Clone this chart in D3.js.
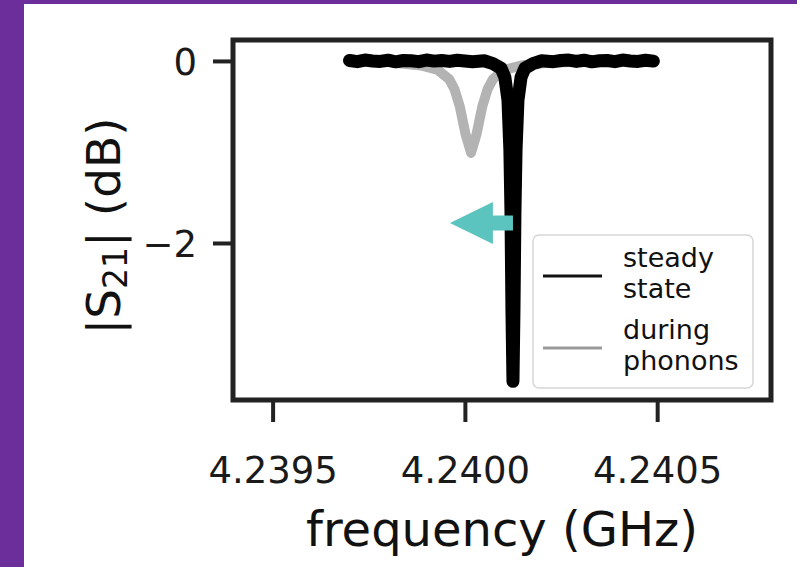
<!DOCTYPE html>
<html>
<head>
<meta charset="utf-8">
<script src="https://cdn.jsdelivr.net/npm/d3@7"></script>
<style>
  body { margin: 0; background: #6c2e9b; }
  svg { display: block; font-family: "DejaVu Sans", sans-serif; }
</style>
</head>
<body>
<div id="viz"></div>
<script>
// steady state trace, frequency in GHz and |S21| in dB
const steadyFreq = [4.23970, 4.23972, 4.23974, 4.23976, 4.23978, 4.23980, 4.23982, 4.23984, 4.23986, 4.23988,
  4.23990, 4.23992, 4.23994, 4.23996, 4.23998, 4.24000, 4.24002, 4.24005, 4.240073, 4.240094,
  4.240104, 4.240112, 4.240117, 4.2401198, 4.2401224, 4.240125, 4.2401276, 4.2401302, 4.240133, 4.240138,
  4.240146, 4.240156, 4.240177, 4.24020, 4.24023, 4.24025, 4.24027, 4.24029, 4.24031, 4.24033,
  4.24035, 4.24037, 4.24039, 4.24041, 4.24043, 4.24045, 4.24047, 4.24049];
const steadyDb = [0.005, -0.008, 0.01, 0.0, -0.005, 0.008, -0.01, 0.005, 0.002, -0.008,
  0.01, -0.002, 0.005, -0.005, 0.008, 0.0, -0.008, 0.002, -0.03, -0.08,
  -0.18, -0.43, -0.98, -1.65, -2.75, -3.52, -2.75, -1.65, -0.98, -0.43,
  -0.18, -0.08, -0.03, 0.002, -0.008, 0.005, 0.01, -0.005, 0.008, -0.01,
  0.002, 0.005, -0.008, 0.01, 0.0, -0.005, 0.008, -0.002];

// trace during phonons
const phononFreq = [4.239704, 4.23980, 4.239816, 4.239886, 4.239930, 4.239959, 4.239973, 4.239987, 4.240002, 4.240016,
  4.240030, 4.240045, 4.240059, 4.240073, 4.240102, 4.240146, 4.240216, 4.24030, 4.24040, 4.240490];
const phononDb = [0.0, -0.01, -0.02, -0.05, -0.10, -0.20, -0.31, -0.505, -0.81, -1.01,
  -0.81, -0.505, -0.31, -0.20, -0.10, -0.05, -0.02, -0.01, 0.0, 0.0];

const xTicks = [4.2395, 4.2400, 4.2405];
const yTicks = [0, -2];
const legendLabels = [["steady", "state"], ["during", "phonons"]];
const arrowFrom = [4.240125, -1.78];
const arrowTo = [4.239961, -1.78];

var width = 797, height = 567;
var margin = ({top: 40, right: 26, bottom: 167, left: 233});

var svg = d3.select('#viz')
  .append('svg')
  .attr('width', width)
  .attr('height', height);

// purple slide frame with white panel
svg.append('rect').attr('width', width).attr('height', height).attr('fill', '#6c2e9b');
svg.append('rect').attr('x', 24).attr('y', 4).attr('width', width - 24).attr('height', height - 4).attr('fill', '#fff');

var x = d3.scaleLinear()
  .domain([4.239397, 4.240796])
  .range([margin.left, width - margin.right]);

var y = d3.scaleLinear()
  .domain([0.23, -3.725])
  .range([margin.top, height - margin.bottom]);

var line = d3.line()
  .x(d => x(d[0]))
  .y(d => y(d[1]));

var phonons = phononFreq.map((f, i) => [f, phononDb[i]]);
var steady = steadyFreq.map((f, i) => [f, steadyDb[i]]);

svg.append('path')
  .attr('d', line(phonons))
  .attr('fill', 'none')
  .attr('stroke', '#b3b3b3')
  .attr('stroke-width', 10)
  .attr('stroke-linejoin', 'round')
  .attr('stroke-linecap', 'round');

svg.append('path')
  .attr('d', line(steady))
  .attr('fill', 'none')
  .attr('stroke', '#000')
  .attr('stroke-width', 13)
  .attr('stroke-linejoin', 'round')
  .attr('stroke-linecap', 'round');

// teal arrow showing the shift
var ax0 = x(arrowFrom[0]), ax1 = x(arrowTo[0]), ay = y(arrowFrom[1]);
var headLen = 43, headW = 21, tailW = 7.5;
svg.append('path')
  .attr('d', 'M' + ax1 + ',' + ay +
    'L' + (ax1 + headLen) + ',' + (ay - headW) +
    'L' + (ax1 + headLen) + ',' + (ay - tailW) +
    'L' + ax0 + ',' + (ay - tailW) +
    'L' + ax0 + ',' + (ay + tailW) +
    'L' + (ax1 + headLen) + ',' + (ay + tailW) +
    'L' + (ax1 + headLen) + ',' + (ay + headW) + 'Z')
  .attr('fill', '#5cc4bf');

// axes
var xAxis = svg.append('g')
  .attr('transform', 'translate(0,' + (height - margin.bottom) + ')')
  .call(d3.axisBottom(x).tickValues(xTicks).tickSize(22).tickPadding(35).tickFormat(d3.format('.4f')));
var yAxis = svg.append('g')
  .attr('transform', 'translate(' + margin.left + ',0)')
  .call(d3.axisLeft(y).tickValues(yTicks).tickSize(20).tickPadding(16).tickFormat(d => d < 0 ? '\u2212' + Math.abs(d) : d));

[xAxis, yAxis].forEach(function(g) {
  g.select('.domain').remove();
  g.selectAll('.tick line').attr('stroke', '#222').attr('stroke-width', 4);
  g.selectAll('.tick text').attr('fill', '#1a1a1a').style('font-size', '37px').style('font-family', '"DejaVu Sans", sans-serif');
});
yAxis.selectAll('.tick text').attr('dy', '0.36em');

// frame
svg.append('rect')
  .attr('x', margin.left)
  .attr('y', margin.top)
  .attr('width', width - margin.right - margin.left)
  .attr('height', height - margin.bottom - margin.top)
  .attr('fill', 'none')
  .attr('stroke', '#222')
  .attr('stroke-width', 5);

// axis labels
svg.append('text')
  .attr('x', (margin.left + width - margin.right) / 2)
  .attr('y', 546)
  .attr('text-anchor', 'middle')
  .attr('fill', '#111')
  .style('font-size', '48px')
  .text('frequency (GHz)');

var ylab = svg.append('text')
  .attr('transform', 'translate(120,226) rotate(-90)')
  .attr('text-anchor', 'middle')
  .attr('fill', '#111')
  .style('font-size', '47px');
ylab.append('tspan').text('|S');
ylab.append('tspan').attr('dy', 7).style('font-size', '33px').text('21');
ylab.append('tspan').attr('dy', -7).text('| (dB)');

// legend
var lg = svg.append('g');
lg.append('rect')
  .attr('x', 533).attr('y', 235).attr('width', 220).attr('height', 153).attr('rx', 6)
  .attr('fill', '#fff').attr('stroke', '#d6d6d6').attr('stroke-width', 1.5);
var legendColors = ['#111', '#999'];
legendLabels.forEach(function(lab, i) {
  var top = 235 + i * 72;
  lg.append('line')
    .attr('x1', 543).attr('x2', 602)
    .attr('y1', top + 41).attr('y2', top + 41)
    .attr('stroke', legendColors[i]).attr('stroke-width', 3);
  lab.forEach(function(t, j) {
    lg.append('text')
      .attr('x', 623).attr('y', top + 32 + j * 31)
      .attr('fill', '#111')
      .style('font-size', '27px')
      .text(t);
  });
});
</script>
</body>
</html>
